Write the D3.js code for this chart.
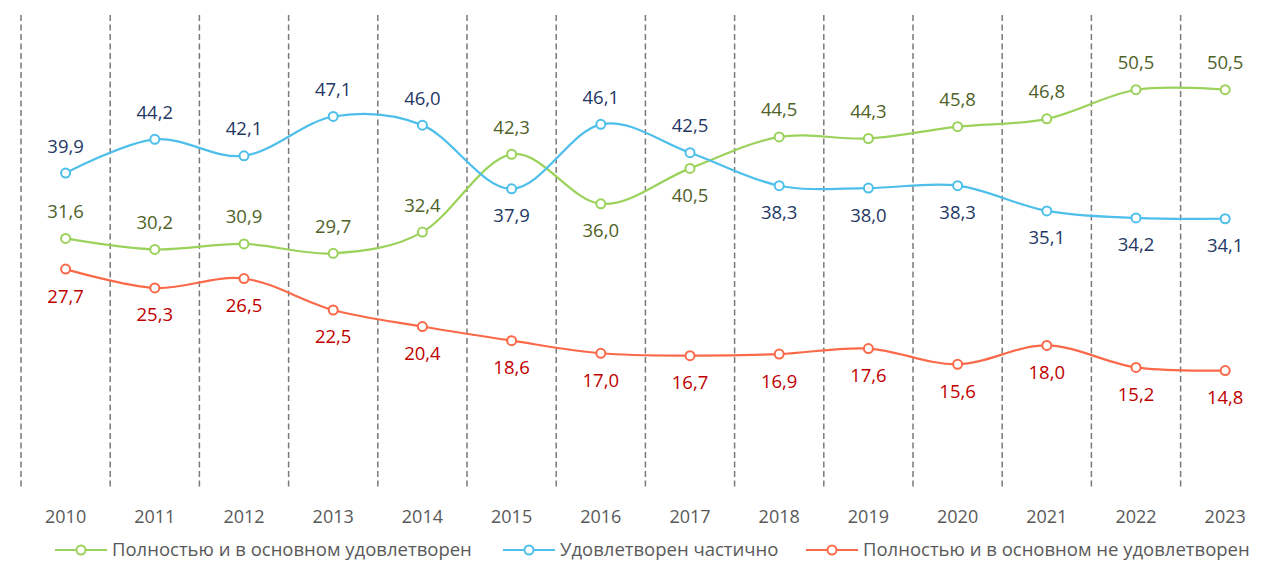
<!DOCTYPE html>
<html>
<head>
<meta charset="utf-8">
<script src="https://cdn.jsdelivr.net/npm/d3@7"></script>
<style>
  body { margin: 0; background: #fff; }
  svg { display: block; font-family: "Open Sans", sans-serif; }
</style>
</head>
<body>
<div id="graphic"></div>
<script>
// data
const years = ['2010', '2011', '2012', '2013', '2014', '2015', '2016', '2017', '2018', '2019', '2020', '2021', '2022', '2023'];
const satisfied = [31.6, 30.2, 30.9, 29.7, 32.4, 42.3, 36.0, 40.5, 44.5, 44.3, 45.8, 46.8, 50.5, 50.5];
const partly = [39.9, 44.2, 42.1, 47.1, 46.0, 37.9, 46.1, 42.5, 38.3, 38.0, 38.3, 35.1, 34.2, 34.1];
const notSatisfied = [27.7, 25.3, 26.5, 22.5, 20.4, 18.6, 17.0, 16.7, 16.9, 17.6, 15.6, 18.0, 15.2, 14.8];
// which side of the marker each label sits on: 1 = above, -1 = below
const satisfiedSide = [1, 1, 1, 1, 1, 1, -1, -1, 1, 1, 1, 1, 1, 1];
const partlySide = [1, 1, 1, 1, 1, -1, 1, 1, -1, -1, -1, -1, -1, -1];
const notSatisfiedSide = years.map(() => -1);

const seriesNames = ['Полностью и в основном удовлетворен', 'Удовлетворен частично', 'Полностью и в основном не удовлетворен'];

const series = [
	{ name: seriesNames[0], values: satisfied, side: satisfiedSide, line: '#9BD25B', text: '#4F6228' },
	{ name: seriesNames[1], values: partly, side: partlySide, line: '#4DBFEA', text: '#1F3864' },
	{ name: seriesNames[2], values: notSatisfied, side: notSatisfiedSide, line: '#FA6A4A', text: '#C00000' }
];

const width = 1266, height = 562;
const plot = { left: 21, top: 15, bottom: 487, step: 89.2 };

const svg = d3.select('#graphic').append('svg')
	.attr('width', width)
	.attr('height', height);

const x = d3.scaleBand()
	.domain(years)
	.range([plot.left, plot.left + plot.step * years.length])
	.padding(0);

const cx = d => x(d) + x.bandwidth() / 2;

const y = d3.scaleLinear()
	.domain([0, 60])
	.range([plot.bottom, plot.top]);

// dashed separators between years
svg.append('g')
	.selectAll('line')
	.data(years)
	.join('line')
	.attr('x1', d => x(d))
	.attr('x2', d => x(d))
	.attr('y1', plot.top)
	.attr('y2', plot.bottom)
	.attr('stroke', '#7a7a7a')
	.attr('stroke-width', 1.5)
	.attr('stroke-dasharray', '6,3.5');

// year labels
const xAxis = svg.append('g')
	.attr('transform', `translate(0, ${plot.bottom})`)
	.call(d3.axisBottom(x).tickSize(0).tickPadding(23));
xAxis.select('.domain').remove();
xAxis.selectAll('text')
	.attr('fill', '#595959')
	.style('font-family', '"Open Sans", sans-serif')
	.style('font-size', '18px');

const lineGen = d3.line()
	.x((d, i) => cx(years[i]))
	.y(d => y(d))
	.curve(d3.curveCardinal.tension(0));

series.forEach(s => {
	svg.append('path')
		.datum(s.values)
		.attr('fill', 'none')
		.attr('stroke', s.line)
		.attr('stroke-width', 2.2)
		.attr('d', lineGen);

	svg.append('g')
		.selectAll('circle')
		.data(s.values)
		.join('circle')
		.attr('cx', (d, i) => cx(years[i]))
		.attr('cy', d => y(d))
		.attr('r', 4.5)
		.attr('fill', '#fff')
		.attr('stroke', s.line)
		.attr('stroke-width', 2);

	svg.append('g')
		.selectAll('text')
		.data(s.values)
		.join('text')
		.attr('x', (d, i) => cx(years[i]))
		.attr('y', (d, i) => y(d) - s.side[i] * 27)
		.attr('dy', '0.35em')
		.attr('text-anchor', 'middle')
		.attr('fill', s.text)
		.style('font-size', '18.5px')
		.text(d => d3.format('.1f')(d).replace('.', ','));
});

// legend
const legend = svg.append('g').attr('transform', 'translate(55, 550)');
const legendStarts = [0, 448, 751];
series.forEach((s, i) => {
	const item = legend.append('g').attr('transform', `translate(${legendStarts[i]}, 0)`);
	item.append('line')
		.attr('x1', 0).attr('x2', 52)
		.attr('y1', 0).attr('y2', 0)
		.attr('stroke', s.line)
		.attr('stroke-width', 2.2);
	item.append('circle')
		.attr('cx', 26).attr('cy', 0).attr('r', 4.5)
		.attr('fill', '#fff')
		.attr('stroke', s.line)
		.attr('stroke-width', 2);
	item.append('text')
		.attr('x', 57)
		.attr('dy', '0.35em')
		.attr('fill', '#595959')
		.style('font-size', '18.5px')
		.text(s.name);
});
</script>
</body>
</html>
